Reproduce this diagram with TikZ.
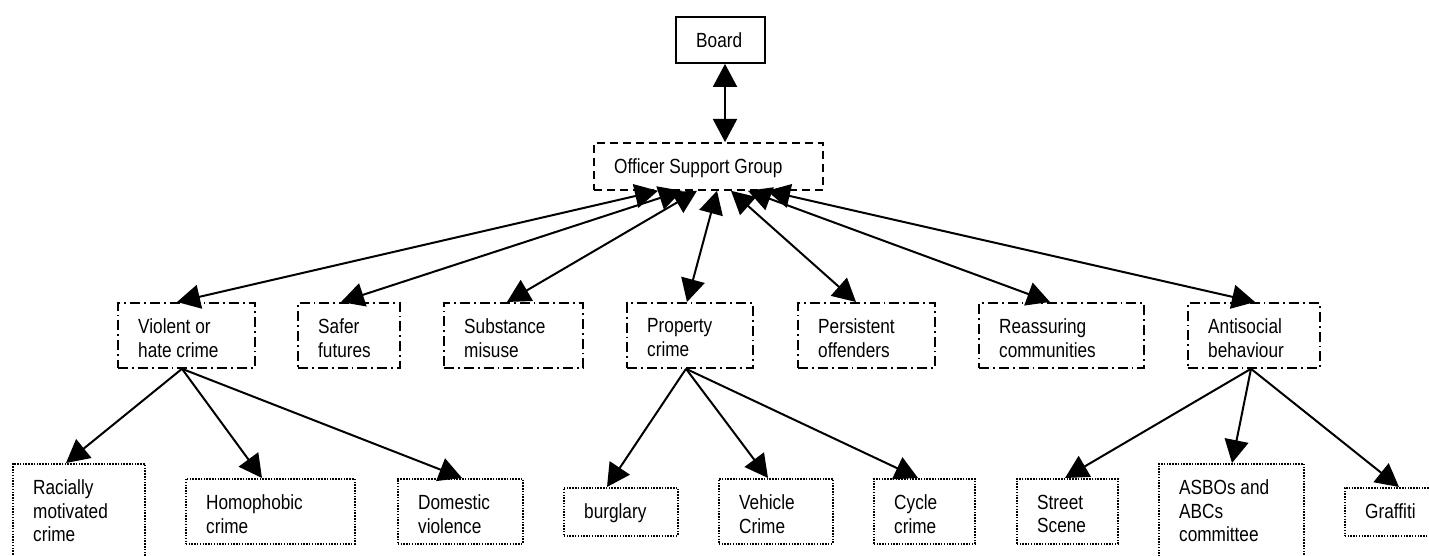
\documentclass[tikz,border=0pt]{standalone}
\usepackage{fontspec}
\setmainfont[FakeStretch=0.84]{Liberation Sans}
\usetikzlibrary{arrows.meta,calc}
\tikzset{
  solidbox/.style={draw, line width=1.9pt, inner sep=0pt},
  dashbox/.style={draw, line width=1.8pt, inner sep=0pt, dash pattern=on 8pt off 5pt},
  dashdotbox/.style={draw, line width=1.8pt, inner sep=0pt, dash pattern=on 10pt off 4pt on 1.8pt off 4pt},
  dotbox/.style={draw, line width=1.5pt, inner sep=0pt, dash pattern=on 1.5pt off 1.3pt},
  lbl/.style={anchor=north west, inner sep=0pt, align=left, font=\fontsize{20.5}{23.5}\selectfont},
  dbl/.style={line width=2pt, {Triangle[length=23pt,width=24pt]}-{Triangle[length=23pt,width=24pt]}},
  sgl/.style={line width=2pt, -{Triangle[length=23pt,width=24pt]}},
}
\newcommand\mkbox[7]{%
  \node[#2, anchor=north west, minimum width={#5-#3}, minimum height={#6-#4}] (#1) at (#3,#4) {};
  \node[lbl] (#1t) at ([xshift=21pt,yshift=-16.5pt]#1.north west) {#7};
}
\begin{document}
\begin{tikzpicture}[x=1pt,y=-1pt]
\useasboundingbox (0,0) rectangle (1429,556);
\clip (0,0) rectangle (1429,556);
% top
\mkbox{board}{solidbox}{675}{16}{764}{62}{Board}
\mkbox{osg}{dashbox}{593}{142}{822}{189}{Officer Support Group}
% middle
\mkbox{vio}{dashdotbox}{117}{302}{254}{367}{Violent or\\hate crime}
\mkbox{saf}{dashdotbox}{297}{302}{399}{367}{Safer\\futures}
\mkbox{sub}{dashdotbox}{443}{302}{582}{367}{Substance\\misuse}
\mkbox{pro}{dashdotbox}{626}{302}{752}{367}{Property\\crime}
\mkbox{per}{dashdotbox}{797}{302}{934}{367}{Persistent\\offenders}
\mkbox{rea}{dashdotbox}{978}{302}{1143}{367}{Reassuring\\communities}
\mkbox{ant}{dashdotbox}{1187}{302}{1319}{367}{Antisocial\\behaviour}
% bottom
\mkbox{rac}{dotbox}{12}{463}{144}{580}{Racially\\motivated\\crime}
\mkbox{hom}{dotbox}{185}{478}{354}{543}{Homophobic\\crime}
\mkbox{dom}{dotbox}{397}{478}{522}{543}{Domestic\\violence}
\mkbox{bur}{dotbox}{563}{487}{677}{535}{burglary}
\mkbox{veh}{dotbox}{718}{478}{832}{543}{Vehicle\\Crime}
\mkbox{cyc}{dotbox}{873}{478}{974}{543}{Cycle\\crime}
\mkbox{str}{dotbox}{1016}{478}{1117}{543}{Street\\Scene}
\mkbox{asb}{dotbox}{1158}{463}{1303}{580}{ASBOs and\\ABCs\\committee}
\mkbox{gra}{dotbox}{1344}{487}{1460}{535}{Graffiti}
% connectors
\draw[dbl] ($(board.south west)+(50,0)$) -- ($(osg.north west)+(132,0)$);
\draw[dbl] ($(osg.south west)+(65,0)$) -- ($(vio.north west)+(60,0)$);
\draw[dbl] ($(osg.south west)+(89,0)$) -- ($(saf.north west)+(44,0)$);
\draw[dbl] ($(osg.south west)+(104,0)$) -- ($(sub.north west)+(64,0)$);
\draw[dbl] ($(osg.south west)+(124,0)$) -- ($(pro.north west)+(61,0)$);
\draw[dbl] ($(osg.south west)+(138,0)$) -- ($(per.north west)+(59,0)$);
\draw[dbl] ($(osg.south west)+(155,0)$) -- ($(rea.north west)+(72,0)$);
\draw[dbl] ($(osg.south west)+(174,0)$) -- ($(ant.north west)+(68,0)$);
\draw[sgl] ($(vio.south west)+(65,0)$) -- ($(rac.north west)+(54,0)$);
\draw[sgl] ($(vio.south west)+(65,0)$) -- ($(hom.north west)+(77,0)$);
\draw[sgl] ($(vio.south west)+(65,0)$) -- ($(dom.north west)+(65,0)$);
\draw[sgl] ($(pro.south west)+(60,0)$) -- ($(bur.north west)+(44,0)$);
\draw[sgl] ($(pro.south west)+(60,0)$) -- ($(veh.north west)+(50,0)$);
\draw[sgl] ($(pro.south west)+(60,0)$) -- ($(cyc.north west)+(45,0)$);
\draw[sgl] ($(ant.south west)+(64,0)$) -- ($(str.north west)+(49,0)$);
\draw[sgl] ($(ant.south west)+(64,0)$) -- ($(asb.north west)+(74,0)$);
\draw[sgl] ($(ant.south west)+(64,0)$) -- ($(gra.north west)+(55,0)$);
\end{tikzpicture}
\end{document}
